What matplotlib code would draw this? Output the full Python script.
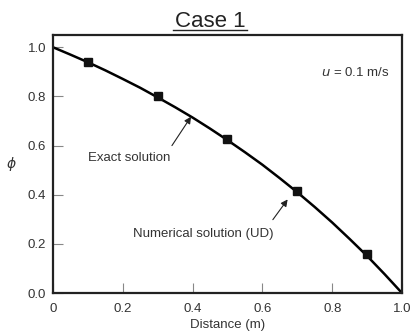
import matplotlib
matplotlib.use('Agg')
import matplotlib.pyplot as plt

# Solucion exacta
x_exact = [0.0, 0.05, 0.1, 0.15, 0.2, 0.25, 0.3, 0.35, 0.4, 0.45, 0.5,
           0.55, 0.6, 0.65, 0.7, 0.75, 0.8, 0.85, 0.9, 0.95, 1.0]
phi_exact = [1.000, 0.970, 0.939, 0.906, 0.871, 0.835, 0.796, 0.756, 0.714, 0.669, 0.622,
             0.573, 0.522, 0.467, 0.410, 0.350, 0.287, 0.220, 0.151, 0.077, 0.000]

# Solucion numerica (UD)
x_num = [0.1, 0.3, 0.5, 0.7, 0.9]
phi_num = [0.942, 0.801, 0.628, 0.416, 0.158]

x_ticks = [0, 0.2, 0.4, 0.6, 0.8, 1.0]
x_ticklabels = ['0', '0.2', '0.4', '0.6', '0.8', '1.0']
y_ticks = [0.0, 0.2, 0.4, 0.6, 0.8, 1.0]

plt.rcParams['font.family'] = ['Liberation Sans', 'DejaVu Sans']
txt = '#333333'

fig = plt.figure(figsize=(4.14, 3.33), dpi=100)
ax = fig.add_axes([0.128, 0.12, 0.843, 0.775])

ax.plot(x_exact, phi_exact, color='black', lw=1.8, zorder=2)
ax.plot(x_num, phi_num, ls='none', marker='s', ms=5.6, color='#111111', zorder=3)

ax.set_xlim(0, 1.0)
ax.set_ylim(0, 1.05)
ax.set_xticks(x_ticks)
ax.set_xticklabels(x_ticklabels)
ax.set_yticks(y_ticks)
ax.set_yticklabels([f'{v:.1f}' for v in y_ticks])
ax.tick_params(direction='in', length=7, width=0.8, color='#888888',
               labelsize=9.5, labelcolor=txt)
ax.tick_params(axis='x', pad=7)
ax.tick_params(axis='y', pad=5)
for s in ax.spines.values():
    s.set_linewidth(1.6)
    s.set_color('#222222')

ax.set_xlabel('Distance (m)', fontsize=9.5, color=txt, labelpad=3)
ax.set_ylabel(r'$\phi$', fontsize=10, color=txt, rotation=0, va='center')
ax.yaxis.set_label_coords(-0.12, 0.5)

ax.text(0.965, 0.853, r'$u$ = 0.1 m/s', transform=ax.transAxes, ha='right',
        va='center', fontsize=9.5, color=txt)

ax.annotate('Exact solution', xy=(0.4, 0.727), xytext=(0.1, 0.55),
            fontsize=9.5, color=txt, va='center',
            arrowprops=dict(arrowstyle='-|>', color='#222222', lw=0.8,
                            mutation_scale=10, shrinkA=3, shrinkB=2,
                            relpos=(0.97, 1.0)))
ax.annotate('Numerical solution (UD)', xy=(0.677, 0.39), xytext=(0.23, 0.24),
            fontsize=9.5, color=txt, va='center',
            arrowprops=dict(arrowstyle='-|>', color='#222222', lw=0.8,
                            mutation_scale=10, shrinkA=5, shrinkB=2,
                            relpos=(0.95, 1.0)))

fig.text(0.508, 0.935, 'Case 1', ha='center', va='center', fontsize=16, color='#222222')
fig.add_artist(plt.Line2D([0.418, 0.597], [0.91, 0.91], color='#222222', lw=1.0))

fig.savefig('out.png', dpi=100)
